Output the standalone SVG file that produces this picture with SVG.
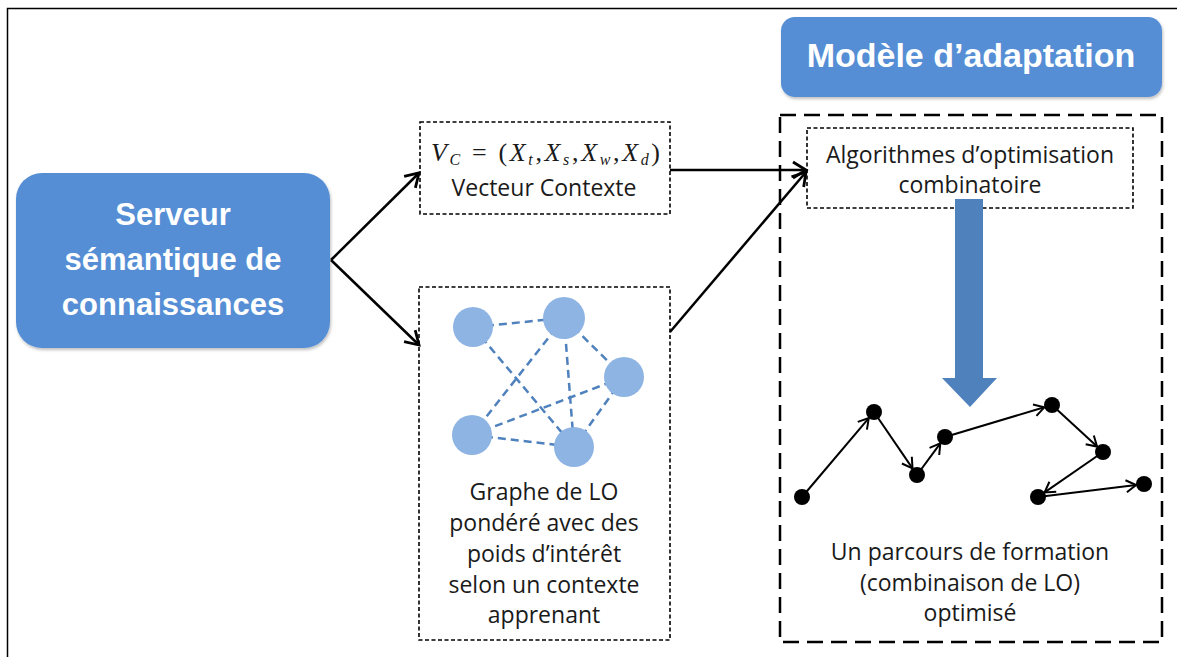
<svg xmlns="http://www.w3.org/2000/svg" width="1177" height="657" viewBox="0 0 1177 657">
<style>
.t{font-family:"Open Sans","Liberation Sans",Arial,sans-serif;font-size:23px;fill:#1a1a1a;text-anchor:middle}
.wt{font-family:"Liberation Sans",Arial,sans-serif;font-weight:bold;fill:#fff;text-anchor:middle}
.dot{fill:none;stroke:#000;stroke-width:1.6;stroke-dasharray:4 2.5}
.edge{stroke:#4F81BD;stroke-width:2.5;stroke-dasharray:8 5}
.lo{fill:#8EB4E3}
.conn{stroke:#000;stroke-width:2.5;fill:none}
.pc{stroke:#000;stroke-width:2;fill:none}
.m{font-family:"Liberation Serif","Times New Roman",serif;font-size:26px;fill:#1a1a1a}
</style>
<defs>
<marker id="ah" markerUnits="userSpaceOnUse" viewBox="-16 -10 20 20" markerWidth="20" markerHeight="20" refX="0" refY="0" orient="auto">
<path d="M-13,-8 L0,0 L-13,8" fill="none" stroke="#000" stroke-width="2.8"/>
</marker>
<marker id="sh" markerUnits="userSpaceOnUse" viewBox="-12 -8 16 16" markerWidth="16" markerHeight="16" refX="0" refY="0" orient="auto">
<path d="M-10,-6 L0,0 L-10,6" fill="none" stroke="#000" stroke-width="2"/>
</marker>
<filter id="sd" x="-5%" y="-5%" width="110%" height="115%">
<feDropShadow dx="1" dy="2" stdDeviation="1.5" flood-color="#000" flood-opacity="0.25"/>
</filter>
</defs>
<rect x="0" y="0" width="1177" height="657" fill="#fff"/>
<path d="M7.5,657 L7.5,8.5 L1177,8.5" fill="none" stroke="#000" stroke-width="1.5"/>

<g id="serveur">
<rect x="16" y="173" width="314" height="175" rx="26" fill="#558ED5" filter="url(#sd)"/>
<text class="wt" font-size="31" x="173" y="225">Serveur</text>
<text class="wt" font-size="31" x="173" y="270">sémantique de</text>
<text class="wt" font-size="31" x="173" y="315">connaissances</text>
</g>

<g id="modele-titre">
<rect x="781" y="17" width="381" height="80" rx="14" fill="#558ED5" filter="url(#sd)"/>
<text class="wt" font-size="34" x="971" y="67">Modèle d’adaptation</text>
</g>

<g id="modele-adaptation">
<rect x="780" y="115" width="382" height="527" fill="none" stroke="#000" stroke-width="2.5" stroke-dasharray="16 8"/>
</g>

<g id="vecteur">
<rect x="420" y="122" width="250" height="92" class="dot" style="fill:#fff"/>
<text class="m" x="431" y="161" textLength="229" lengthAdjust="spacing"><tspan font-style="italic">V</tspan><tspan font-style="italic" font-size="16" dy="4">C</tspan><tspan dy="-4"> = (</tspan><tspan font-style="italic">X</tspan><tspan font-style="italic" font-size="16" dy="4">t</tspan><tspan dy="-4">,</tspan><tspan font-style="italic">X</tspan><tspan font-style="italic" font-size="16" dy="4">s</tspan><tspan dy="-4">,</tspan><tspan font-style="italic">X</tspan><tspan font-style="italic" font-size="16" dy="4">w</tspan><tspan dy="-4">,</tspan><tspan font-style="italic">X</tspan><tspan font-style="italic" font-size="16" dy="4">d</tspan><tspan dy="-4">)</tspan></text>
<text class="t" x="544" y="196">Vecteur Contexte</text>
</g>

<g id="graphe">
<rect x="419" y="287" width="251" height="353" class="dot" style="fill:#fff"/>
<line class="edge" x1="473" y1="327" x2="564" y2="318"/>
<line class="edge" x1="473" y1="327" x2="574" y2="447"/>
<line class="edge" x1="564" y1="318" x2="472" y2="435"/>
<line class="edge" x1="564" y1="318" x2="574" y2="447"/>
<line class="edge" x1="564" y1="318" x2="624" y2="377"/>
<line class="edge" x1="624" y1="377" x2="472" y2="435"/>
<line class="edge" x1="624" y1="377" x2="574" y2="447"/>
<line class="edge" x1="472" y1="435" x2="574" y2="447"/>
<circle class="lo" cx="473" cy="327" r="20"/>
<circle class="lo" cx="564" cy="318" r="21"/>
<circle class="lo" cx="624" cy="377" r="20"/>
<circle class="lo" cx="472" cy="435" r="20"/>
<circle class="lo" cx="574" cy="447" r="20"/>
<text class="t" x="544" y="500">Graphe de LO</text>
<text class="t" x="544" y="531">pondéré avec des</text>
<text class="t" x="544" y="562">poids d’intérêt</text>
<text class="t" x="544" y="593">selon un contexte</text>
<text class="t" x="544" y="623">apprenant</text>
</g>

<g id="algorithmes">
<rect x="807" y="128" width="326" height="80" class="dot" style="fill:#fff"/>
<text class="t" x="970" y="163">Algorithmes d’optimisation</text>
<text class="t" x="970" y="193">combinatoire</text>
</g>

<g id="parcours">
<g class="pc">
<line x1="802" y1="497" x2="868.8" y2="418.1" marker-end="url(#sh)"/>
<line x1="874" y1="412" x2="912.5" y2="468.4" marker-end="url(#sh)"/>
<line x1="917" y1="475" x2="940.3" y2="443.4" marker-end="url(#sh)"/>
<line x1="945" y1="437" x2="1044.3" y2="407.3" marker-end="url(#sh)"/>
<line x1="1052" y1="405" x2="1097.1" y2="446.6" marker-end="url(#sh)"/>
<line x1="1103" y1="452" x2="1044.6" y2="492.4" marker-end="url(#sh)"/>
<line x1="1038" y1="497" x2="1136.1" y2="485" marker-end="url(#sh)"/>
</g>
<g fill="#000">
<circle cx="802" cy="497" r="8"/>
<circle cx="874" cy="412" r="8"/>
<circle cx="917" cy="475" r="8"/>
<circle cx="945" cy="437" r="8"/>
<circle cx="1052" cy="405" r="8"/>
<circle cx="1103" cy="452" r="8"/>
<circle cx="1038" cy="497" r="8"/>
<circle cx="1144" cy="484" r="8"/>
</g>
<text class="t" x="970" y="560">Un parcours de formation</text>
<text class="t" x="970" y="591">(combinaison de LO)</text>
<text class="t" x="970" y="621">optimisé</text>
</g>

<g id="connecteurs">
<path class="conn" d="M331,260 L419,173" marker-end="url(#ah)"/>
<path class="conn" d="M331,260 L419,345" marker-end="url(#ah)"/>
<path class="conn" d="M670,170 L806,170" marker-end="url(#ah)"/>
<path class="conn" d="M670,332 L806,172" marker-end="url(#ah)"/>
<path d="M955,199 L983,199 L983,378 L997,378 L970,407 L942,378 L955,378 Z" fill="#4F81BD"/>
</g>
</svg>
